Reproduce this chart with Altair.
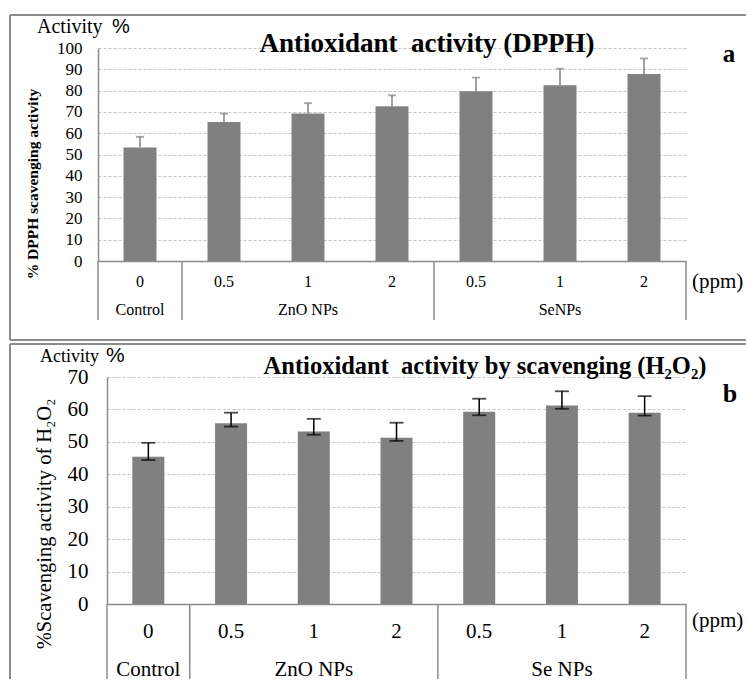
import altair as alt
import pandas as pd

SERIF = "Liberation Serif, Times New Roman, serif"
SANS = "Liberation Sans, Arial, sans-serif"
BAR = "#808080"
LINE = "#8c8c8c"
GRID = "#c4c4c4"

# ---- data -------------------------------------------------------------
conc = ["0", "0.5", "1", "2", "0.5", "1", "2"]
groups_a = ["Control", "ZnO NPs", "ZnO NPs", "ZnO NPs", "SeNPs", "SeNPs", "SeNPs"]
groups_b = ["Control", "ZnO NPs", "ZnO NPs", "ZnO NPs", "Se NPs", "Se NPs", "Se NPs"]

# panel a: % DPPH scavenging activity (mean, upper error)
dpph_mean = [53.3, 65.2, 69.3, 72.6, 79.7, 82.5, 87.8]
dpph_upper = [58.3, 69.2, 74.1, 77.8, 86.1, 90.3, 95.1]

# panel b: % scavenging activity of H2O2 (mean, lower, upper)
h2o2_mean = [45.4, 55.7, 53.2, 51.3, 59.3, 61.2, 59.0]
h2o2_lower = [44.4, 54.7, 52.2, 50.3, 58.2, 60.2, 58.1]
h2o2_upper = [49.7, 59.0, 57.1, 55.9, 63.3, 65.6, 64.1]

one = pd.DataFrame({"k": [0]})


def panel(groups, mean, lo, hi, W, H, ymax, st, texts):
    keys = [f"{g}|{c}" for g, c in zip(groups, conc)]
    n = len(keys)
    start = [i == 0 or groups[i] != groups[i - 1] for i in range(n)]
    end = [i == n - 1 for i in range(n)]
    glabel = [""] * n
    i = 0
    while i < n:
        j = i
        while j < n and groups[j] == groups[i]:
            j += 1
        glabel[i + (j - i) // 2] = groups[i]
        i = j
    df = pd.DataFrame({"key": keys, "mean": mean, "lo": lo, "hi": hi,
                       "start": start, "end": end, "glabel": glabel})

    xax = alt.Axis(title=None, labelExpr="split(datum.label, '|')[1]", labelAngle=0,
                   ticks=False, tickSize=0, labelPadding=st["xlp"], labelBaseline="middle",
                   labelFont=SERIF, labelFontSize=st["xfs"], labelColor="black",
                   domainColor=LINE, domainWidth=1.5, grid=False)
    xsc = alt.Scale(domain=keys, paddingInner=0, paddingOuter=0, range=[-st["shift"], W])
    X = alt.X("key:N", sort=keys, scale=xsc, axis=xax)
    yax = alt.Axis(title=None, values=list(range(0, ymax + 1, 10)), ticks=False, tickSize=0,
                   labelPadding=st["ylp"], labelFont=SERIF, labelFontSize=st["yfs"],
                   labelColor="black", domainColor=LINE, domainWidth=1.5, grid=True,
                   gridColor=GRID, gridDash=[3, 2], gridWidth=1, offset=st["shift"])
    ysc = alt.Scale(domain=[0, ymax], nice=False, zero=True)

    base = alt.Chart(df)
    layers = []
    layers.append(base.mark_bar(size=st["bw"], color=BAR).encode(
        x=X, y=alt.Y("mean:Q", scale=ysc, axis=yax)))
    layers.append(base.mark_rule(color=st["ec"], strokeWidth=1.5).encode(
        x=X, y=alt.Y("lo:Q", scale=ysc, axis=yax), y2="hi:Q"))
    layers.append(base.mark_tick(color=st["ec"], size=st["cap"], thickness=1.8).encode(
        x=X, y=alt.Y("hi:Q", scale=ysc, axis=yax)))
    if st["lowcap"]:
        layers.append(base.mark_tick(color=st["ec"], size=st["cap"], thickness=1.8).encode(
            x=X, y=alt.Y("lo:Q", scale=ysc, axis=yax)))
    # hierarchical axis separators
    layers.append(base.transform_filter("datum.start").mark_rule(color=LINE, strokeWidth=1.5).encode(
        x=alt.X("key:N", sort=keys, scale=xsc, axis=xax, bandPosition=0),
        y=alt.value(H), y2=alt.value(st["sepEnd"])))
    layers.append(base.transform_filter("datum.end").mark_rule(color=LINE, strokeWidth=1.5).encode(
        x=alt.X("key:N", sort=keys, scale=xsc, axis=xax, bandPosition=1),
        y=alt.value(H), y2=alt.value(st["sepEnd"])))
    layers.append(base.transform_filter("datum.glabel != ''").mark_text(
        font=SERIF, fontSize=st["gfs"], baseline="middle", color="black").encode(
        x=X, y=alt.value(st["gy"]), text="glabel:N"))

    # panel frame
    bx0, bx1, by0, by1 = st["frame"]
    layers.append(alt.Chart(one).mark_rule(color=LINE, strokeWidth=2).encode(
        x=alt.value(bx0), x2=alt.value(bx1), y=alt.value(by0)))
    layers.append(alt.Chart(one).mark_rule(color=LINE, strokeWidth=2).encode(
        x=alt.value(bx0), y=alt.value(by0), y2=alt.value(by1)))
    if st["bottom"]:
        layers.append(alt.Chart(one).mark_rule(color=LINE, strokeWidth=2).encode(
            x=alt.value(bx0), x2=alt.value(bx1), y=alt.value(by1)))

    for t in texts:
        props = dict(t)
        px, py = props.pop("px"), props.pop("py")
        props.setdefault("font", SERIF)
        props.setdefault("color", "black")
        layers.append(alt.Chart(one).mark_text(**props).encode(x=alt.value(px), y=alt.value(py)))

    return alt.layer(*layers).properties(width=W, height=H)


# panel a: plot area x 98..686 (origin shared with panel b at x=107)
st_a = dict(shift=9, xlp=20, xfs=16, ylp=16, yfs=17, bw=33, ec=BAR, cap=8, lowcap=False,
            sepEnd=272, gfs=16, gy=262, frame=(-97, 639, -33, 292), bottom=True)
texts_a = [
    dict(text="Antioxidant\u00a0 activity (DPPH)", px=320, py=4, fontSize=27, fontWeight="bold",
         align="center", baseline="alphabetic"),
    dict(text="a", px=622, py=14, fontSize=25, fontWeight="bold", align="center", baseline="alphabetic"),
    dict(text="Activity", px=-70, py=-15, fontSize=20, align="left", baseline="alphabetic"),
    dict(text="%", px=5, py=-15, fontSize=20, font=SANS, align="left", baseline="alphabetic"),
    dict(text="% DPPH scavenging activity", px=-74, py=136, fontSize=15.5, fontWeight="bold",
         angle=270, align="center", baseline="middle"),
    dict(text="(ppm)", px=585, py=234, fontSize=21, align="left", baseline="middle"),
]

st_b = dict(shift=0, xlp=27, xfs=21, ylp=19, yfs=21, bw=32, ec="black", cap=14, lowcap=True,
            sepEnd=302, gfs=21, gy=293, frame=(-97, 639, -33, 302), bottom=False)
texts_b = [
    dict(text="Antioxidant\u00a0 activity by scavenging (H\u2082O\u2082)", px=378, py=-3, fontSize=24.5,
         fontWeight="bold", align="center", baseline="alphabetic"),
    dict(text="b", px=623, py=25, fontSize=26, fontWeight="bold", align="center", baseline="alphabetic"),
    dict(text="Activity", px=-67, py=-15, fontSize=18, align="left", baseline="alphabetic"),
    dict(text="%", px=-1, py=-15, fontSize=21, font=SANS, align="left", baseline="alphabetic"),
    dict(text="%Scavenging activity of H\u2082O\u2082", px=-62, py=147, fontSize=20.5,
         angle=270, align="center", baseline="middle"),
    dict(text="(ppm)", px=585, py=244, fontSize=21, align="left", baseline="middle"),
]

pa = panel(groups_a, dpph_mean, dpph_mean, dpph_upper, 579, 213, 100, st_a, texts_a)
pb = panel(groups_b, h2o2_mean, h2o2_lower, h2o2_upper, 579, 227, 70, st_b, texts_b)

chart = alt.concat(pa, pb, columns=1, spacing=2).properties(
    padding={"left": 9, "top": 14, "right": 0, "bottom": 0},
    background="white",
).configure_view(strokeWidth=0)

chart.save("out.html", embed_options={"renderer": "svg", "actions": False})
